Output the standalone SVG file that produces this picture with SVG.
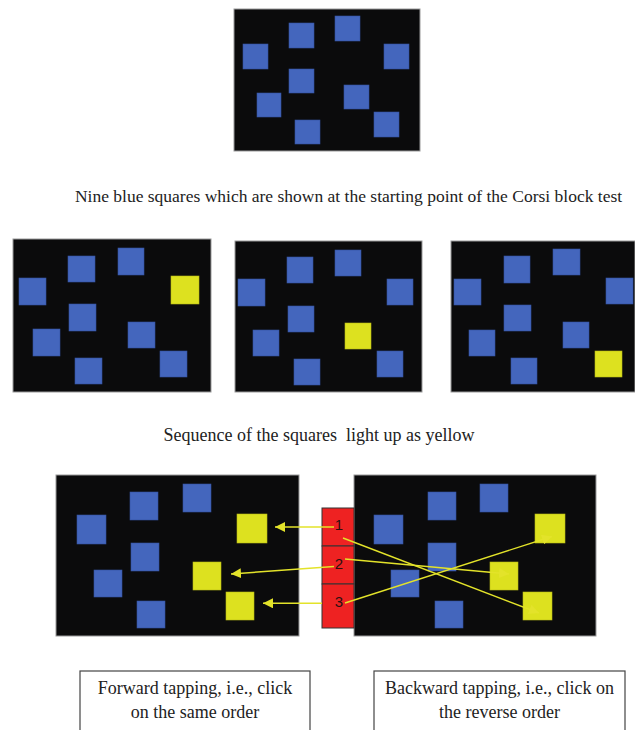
<svg xmlns="http://www.w3.org/2000/svg" width="635" height="730" viewBox="0 0 635 730">
<defs>
<style>
.panel{fill:#0b0b0c;stroke:#9a9a9a;stroke-width:1}
.b{fill:#4466bd;stroke:#3553a0;stroke-width:0.6}
.y{fill:#dde11f;stroke:#b9bb15;stroke-width:0.6}
.cap{font-family:"Liberation Serif","Times New Roman",serif;font-size:17.5px;fill:#222}
.bt{font-family:"Liberation Serif","Times New Roman",serif;font-size:18px;fill:#222;text-anchor:middle}
.box{fill:#fff;stroke:#444;stroke-width:1.2}
.red{fill:#ee2222;stroke:#333;stroke-width:1}
.num{font-family:"Liberation Sans",Arial,sans-serif;font-size:15px;fill:#2a1010;text-anchor:middle}
.arr{stroke:#e3e32a;stroke-width:1.4;fill:none;marker-end:url(#ah)}
</style>
<marker id="ah" markerUnits="userSpaceOnUse" markerWidth="12" markerHeight="10" refX="10" refY="5" orient="auto">
<path d="M0,0 L10,5 L0,10 Z" fill="#e3e32a"/>
</marker>
</defs>

<g id="panel-start">
<rect class="panel" x="234" y="9" width="186" height="142"/>
<rect class="b" x="243" y="44" width="25" height="25"/>
<rect class="b" x="289" y="23" width="25" height="25"/>
<rect class="b" x="335" y="16" width="25" height="25"/>
<rect class="b" x="384" y="44" width="25" height="25"/>
<rect class="b" x="289" y="69" width="25" height="24"/>
<rect class="b" x="257" y="93" width="24" height="24"/>
<rect class="b" x="344" y="85" width="25" height="24"/>
<rect class="b" x="295" y="120" width="25" height="24"/>
<rect class="b" x="374" y="112" width="25" height="25"/>
</g>
<text class="cap" x="348.5" y="202" text-anchor="middle">Nine blue squares which are shown at the starting point of the Corsi block test</text>

<g id="panel-seq1">
<rect class="panel" x="13" y="239" width="198" height="153"/>
<rect class="b" x="19" y="278" width="27" height="27"/>
<rect class="b" x="68" y="256" width="27" height="26"/>
<rect class="b" x="118" y="248" width="26" height="27"/>
<rect class="y" x="171" y="276" width="28" height="28"/>
<rect class="b" x="69" y="304" width="27" height="27"/>
<rect class="b" x="33" y="329" width="27" height="27"/>
<rect class="b" x="128" y="322" width="27" height="26"/>
<rect class="b" x="75" y="358" width="27" height="26"/>
<rect class="b" x="160" y="351" width="27" height="26"/>
</g>
<g id="panel-seq2">
<rect class="panel" x="235" y="241" width="187" height="151"/>
<rect class="b" x="238" y="279" width="27" height="27"/>
<rect class="b" x="287" y="257" width="26" height="26"/>
<rect class="b" x="335" y="250" width="26" height="26"/>
<rect class="b" x="387" y="279" width="26" height="26"/>
<rect class="b" x="288" y="306" width="26" height="26"/>
<rect class="b" x="253" y="330" width="26" height="26"/>
<rect class="y" x="345" y="323" width="26" height="26"/>
<rect class="b" x="294" y="359" width="26" height="26"/>
<rect class="b" x="377" y="351" width="26" height="26"/>
</g>
<g id="panel-seq3">
<rect class="panel" x="451" y="241" width="184" height="151"/>
<rect class="b" x="454" y="279" width="27" height="26"/>
<rect class="b" x="504" y="256" width="26" height="27"/>
<rect class="b" x="553" y="249" width="27" height="26"/>
<rect class="b" x="606" y="278" width="27" height="26"/>
<rect class="b" x="504" y="305" width="27" height="26"/>
<rect class="b" x="469" y="330" width="26" height="26"/>
<rect class="b" x="563" y="322" width="26" height="26"/>
<rect class="y" x="595" y="351" width="27" height="26"/>
<rect class="b" x="511" y="358" width="26" height="26"/>
</g>
<text class="cap" x="319" y="441" text-anchor="middle" xml:space="preserve" style="font-size:18px">Sequence of the squares  light up as yellow</text>

<g id="panel-forward">
<rect class="panel" x="56" y="475" width="243" height="161"/>
<rect class="b" x="77" y="515" width="29" height="29"/>
<rect class="b" x="130" y="492" width="28" height="28"/>
<rect class="b" x="183" y="484" width="28" height="28"/>
<rect class="y" x="237" y="514" width="30" height="29"/>
<rect class="b" x="131" y="543" width="28" height="28"/>
<rect class="b" x="94" y="570" width="28" height="27"/>
<rect class="y" x="193" y="562" width="28" height="28"/>
<rect class="y" x="226" y="592" width="28" height="28"/>
<rect class="b" x="137" y="601" width="28" height="27"/>
</g>
<g id="panel-backward">
<rect class="panel" x="354" y="475" width="242" height="161"/>
<rect class="b" x="374" y="515" width="29" height="29"/>
<rect class="b" x="428" y="492" width="28" height="28"/>
<rect class="b" x="480" y="484" width="28" height="28"/>
<rect class="y" x="535" y="514" width="30" height="29"/>
<rect class="b" x="428" y="543" width="28" height="28"/>
<rect class="b" x="391" y="570" width="28" height="27"/>
<rect class="y" x="490" y="562" width="28" height="28"/>
<rect class="y" x="523" y="592" width="29" height="28"/>
<rect class="b" x="435" y="601" width="28" height="27"/>
</g>

<g id="sequence-boxes">
<rect class="red" x="322" y="508" width="32" height="38"/>
<rect class="red" x="322" y="546" width="32" height="38"/>
<rect class="red" x="322" y="584" width="32" height="44"/>
<text class="num" x="339" y="530">1</text>
<text class="num" x="339" y="569">2</text>
<text class="num" x="339" y="607">3</text>
</g>

<g id="connectors">
<line class="arr" x1="334" y1="527" x2="275" y2="527"/>
<line class="arr" x1="334" y1="566.5" x2="231" y2="574"/>
<line class="arr" x1="322" y1="603.3" x2="263" y2="603.3"/>
<line class="arr" x1="343" y1="538" x2="539" y2="613"/>
<line class="arr" x1="345" y1="559" x2="509" y2="574"/>
<line class="arr" x1="345" y1="603" x2="552" y2="536.5"/>
</g>

<g id="box-forward">
<rect class="box" x="80" y="671" width="230" height="70"/>
<text class="bt" x="195" y="694">Forward tapping, i.e., click</text>
<text class="bt" x="195" y="718">on the same order</text>
</g>
<g id="box-backward">
<rect class="box" x="374" y="671" width="251" height="70"/>
<text class="bt" x="499.5" y="694">Backward tapping, i.e., click on</text>
<text class="bt" x="499.5" y="718">the reverse order</text>
</g>
</svg>
